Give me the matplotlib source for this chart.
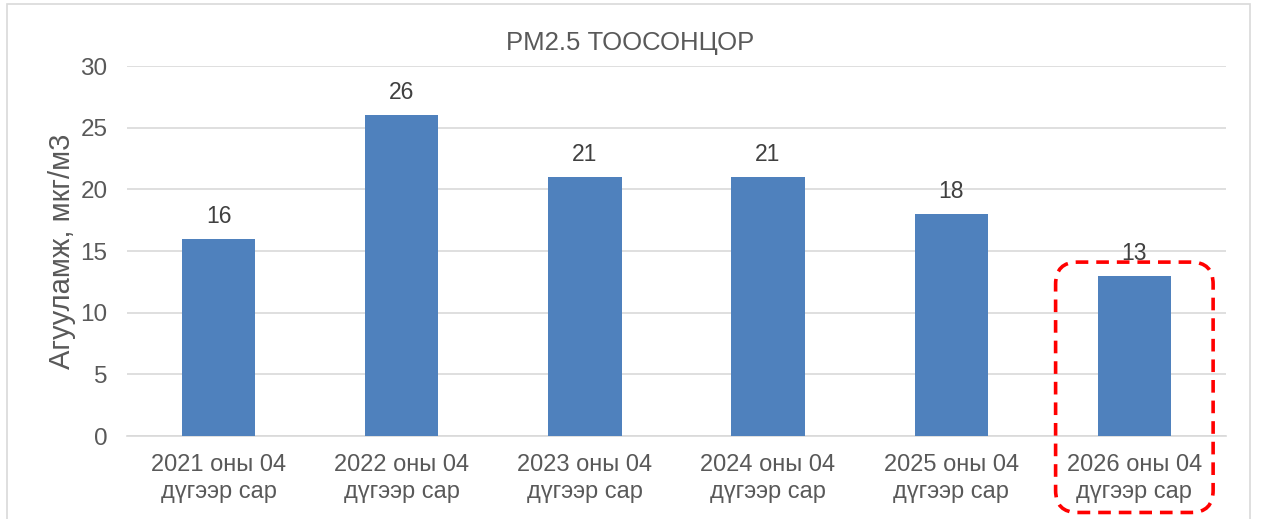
import matplotlib.pyplot as plt
from matplotlib.patches import FancyBboxPatch, Rectangle
from matplotlib.transforms import IdentityTransform

plt.rcParams['font.family'] = ['Liberation Sans', 'DejaVu Sans']

categories = ["2021 оны 04\nдүгээр сар", "2022 оны 04\nдүгээр сар", "2023 оны 04\nдүгээр сар",
              "2024 оны 04\nдүгээр сар", "2025 оны 04\nдүгээр сар", "2026 оны 04\nдүгээр сар"]
values = [16, 26, 21, 21, 18, 13]
title = "PM2.5 ТООСОНЦОР"
ylabel = "Агууламж, мкг/м3"

fig = plt.figure(figsize=(12.61, 5.19), dpi=100)
ax = fig.add_axes([0.1007, 0.1599, 0.8715, 0.7129])

x = range(len(values))
bars = ax.bar(x, values, width=0.4, color="#4F81BD", zorder=3)
for b, v in zip(bars, values):
    ax.annotate(str(v), (b.get_x() + b.get_width() / 2, v), xytext=(0, 8),
                textcoords="offset points", ha="center", va="bottom",
                fontsize=16.5, color="#404040")

ax.set_xlim(-0.5, len(values) - 0.5)
ax.set_ylim(0, 30)
ax.set_yticks(range(0, 31, 5))
ax.set_xticks(list(x))
ax.set_xticklabels(categories, fontsize=17, color="#595959", linespacing=1.3)
ax.tick_params(axis="y", labelsize=17.5, labelcolor="#595959", length=0, pad=14)
ax.tick_params(axis="x", length=0, pad=13)
ax.grid(axis="y", color="#D9D9D9", linewidth=1.2, zorder=0)
for s in ["top", "right", "left"]:
    ax.spines[s].set_visible(False)
ax.spines["bottom"].set_color("#D9D9D9")
ax.spines["bottom"].set_linewidth(1.2)
ax.set_ylabel(ylabel, fontsize=21, color="#595959", labelpad=3)

fig.text(0.5, 0.918, title, ha="center", va="center", fontsize=18.5, color="#595959")

# chart border
fig.add_artist(Rectangle((0.0056, -0.01), 0.9857, 1.002, transform=fig.transFigure,
                         fill=False, edgecolor="#D9D9D9", linewidth=1.2))

# red dashed highlight around the last category
fig.canvas.draw()
last = len(values) - 1
(x0, y0) = ax.transData.transform((last - 0.43, -6.2))
(x1, y1) = ax.transData.transform((last + 0.43, 14.1))
box = FancyBboxPatch((x0, y0), x1 - x0, y1 - y0, boxstyle="round,pad=0,rounding_size=22",
                     transform=IdentityTransform(), fill=False, edgecolor="#FF0000",
                     linewidth=2.6, linestyle=(0, (3.5, 2.2)))
fig.add_artist(box)

fig.savefig("out.png", dpi=100)
